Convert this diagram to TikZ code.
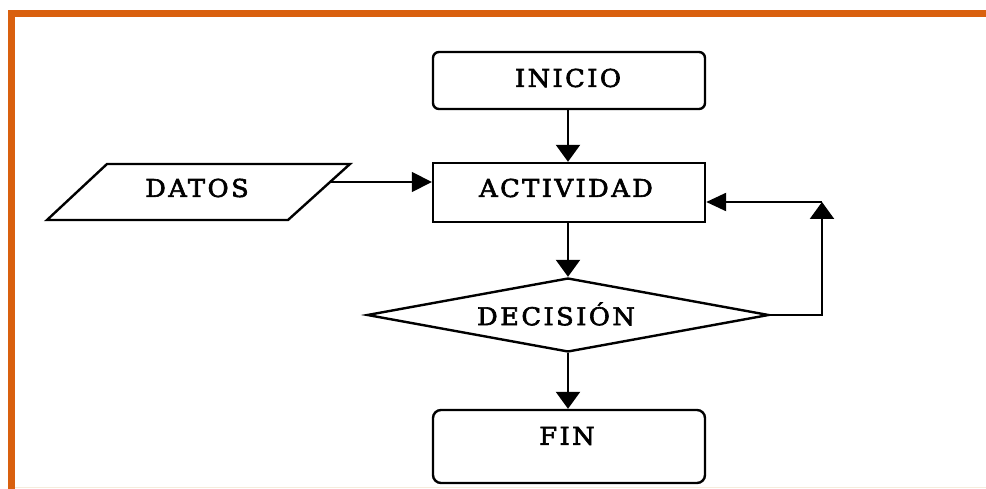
\documentclass[tikz,border=0pt]{standalone}
\usepackage{fontspec}
\setmainfont{DejaVu Serif}[LetterSpace=10,FakeBold=2.5,FakeStretch=1.05]
\usetikzlibrary{arrows.meta,shapes.geometric}
\definecolor{frameorange}{RGB}{217,96,14}
\definecolor{faint}{RGB}{245,236,220}
\tikzset{
  box/.style={draw=black, line width=2.4pt, minimum width=272pt, minimum height=#1, inner sep=0pt},
  lbl/.style={inner sep=0pt, font=\fontsize{24.5pt}{26pt}\selectfont},
  conn/.style={draw=black, line width=2.4pt, -{Triangle[width=24pt,length=17pt]}},
}
\begin{document}
\begin{tikzpicture}[x=1pt,y=-1pt]
\useasboundingbox (0,0) rectangle (986,489);
% frame
\draw[frameorange, line width=7pt] (11,489) -- (11,13.5) -- (986,13.5);
\draw[faint, line width=1pt] (15,487.5) -- (986,487.5);
% nodes
\node[box=57pt, rounded corners=6pt] (inicio) at (569,80.5) {};
\node[lbl] (tinicio) at (568,78) {INICIO};
\node[box=59pt] (act) at (569,192.5) {};
\node[lbl] (tact) at (566,188) {ACTIVIDAD};
\node[draw=black, line width=2.4pt, diamond, minimum width=402pt, minimum height=74pt, inner sep=0pt] (dec) at (568,315) {};
\node[lbl] (tdec) at (556,314) {DECISIÓN};
\node[box=73pt, rounded corners=8pt] (fin) at (569,446.5) {};
\node[lbl] (tfin) at (567,436) {FIN};
% datos parallelogram
\draw[black, line width=2.4pt] (107,164) -- (350,164) -- (288,220) -- (47,220) -- cycle;
\node[lbl] (tdatos) at (197,188) {DATOS};
\coordinate (dout) at (330,182);
\coordinate (corner1) at (822,315);
\coordinate (corner2) at (822,202);
% connectors
\draw[conn] (inicio.south -| dec.north) -- (act.north -| dec.north);
\draw[conn] (act.south -| dec.north) -- (dec.north);
\draw[conn] (dec.south) -- (fin.north -| dec.south);
\draw[conn, line width=1.6pt, -{Triangle[width=20pt,length=20pt]}] (dout) -- (act.west |- dout);
\draw[conn] (dec.east) -- (corner1) -- (corner2);
\draw[conn, -{Triangle[width=18pt,length=20pt]}] (corner2) -- (act.east |- corner2);
\end{tikzpicture}
\end{document}
